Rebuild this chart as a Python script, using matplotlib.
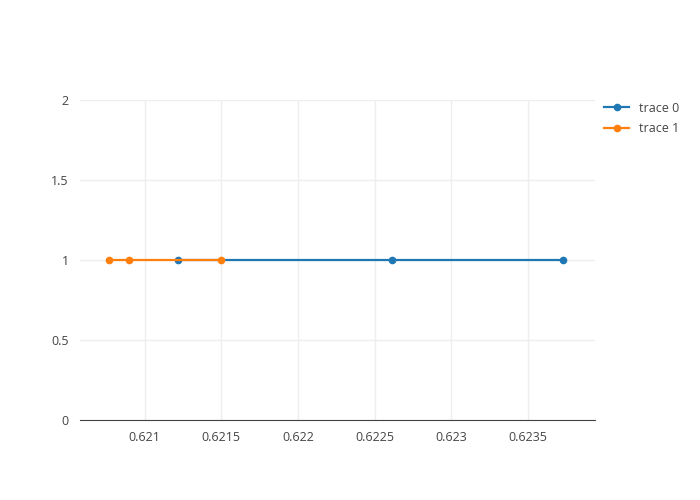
import matplotlib.pyplot as plt

trace0_x = [0.621215, 0.622612, 0.623730]
trace0_y = [1, 1, 1]
trace1_x = [0.620765, 0.620896, 0.6215]
trace1_y = [1, 1, 1]
xticks = [0.621, 0.6215, 0.622, 0.6225, 0.623, 0.6235]
xlabels = ["0.621", "0.6215", "0.622", "0.6225", "0.623", "0.6235"]
yticks = [0, 0.5, 1, 1.5, 2]
ylabels = ["0", "0.5", "1", "1.5", "2"]

plt.rcParams['font.family'] = ['Open Sans', 'DejaVu Sans']
fig = plt.figure(figsize=(7, 5), dpi=100)
ax = fig.add_axes([0.114, 0.16, 0.736, 0.64])

ax.plot(trace0_x, trace0_y, color='#1f77b4', marker='o', markersize=4.5, linewidth=1.6, label='trace 0', zorder=3)
ax.plot(trace1_x, trace1_y, color='#ff7f0e', marker='o', markersize=4.5, linewidth=1.6, label='trace 1', zorder=3)

ax.set_xlim(0.620577, 0.623936)
ax.set_ylim(0, 2)
ax.set_xticks(xticks)
ax.set_xticklabels(xlabels)
ax.set_yticks(yticks)
ax.set_yticklabels(ylabels)
ax.grid(True, color='#eeeeee', linewidth=1)
ax.set_axisbelow(True)
for s in ['top', 'right', 'left']:
    ax.spines[s].set_visible(False)
ax.spines['bottom'].set_color('#444444')
ax.tick_params(length=0, labelsize=9, colors='#444444', pad=8)

ax.legend(loc='upper left', bbox_to_anchor=(1.008, 1.01), frameon=False, fontsize=9,
          handlelength=2, labelcolor='#444444', borderaxespad=0, labelspacing=0.6)

fig.savefig('out.png', dpi=100)
